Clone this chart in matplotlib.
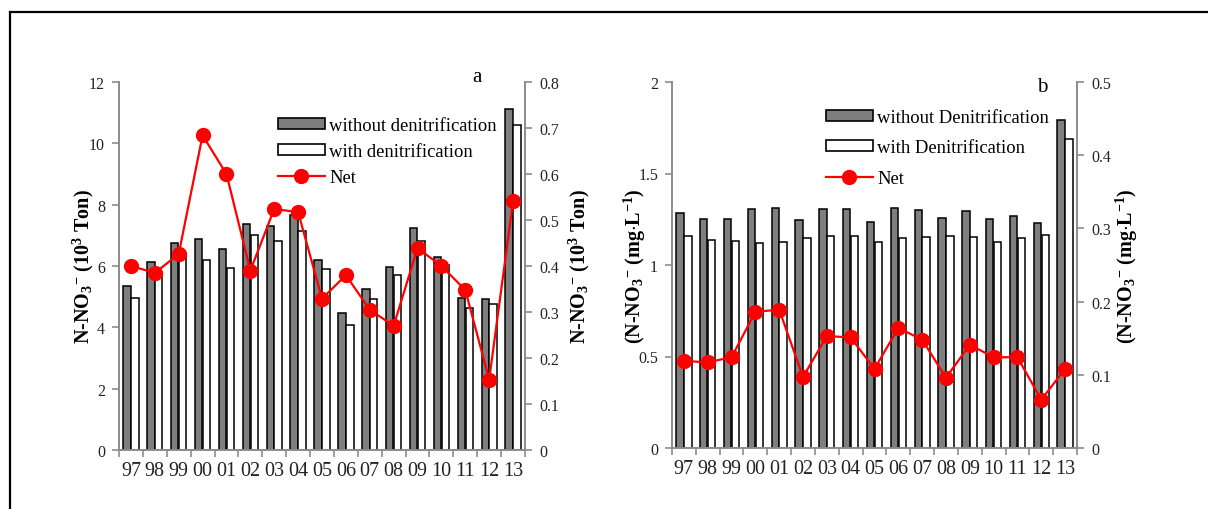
import matplotlib
matplotlib.use('Agg')
import matplotlib.pyplot as plt
from matplotlib.lines import Line2D
from matplotlib.patches import Patch
import numpy as np

plt.rcParams['font.family'] = ['Liberation Serif', 'DejaVu Serif']
plt.rcParams['mathtext.fontset'] = 'custom'
plt.rcParams['mathtext.rm'] = 'Liberation Serif'
plt.rcParams['mathtext.bf'] = 'Liberation Serif:bold'
plt.rcParams['mathtext.it'] = 'Liberation Serif:italic'

years = ['97', '98', '99', '00', '01', '02', '03', '04', '05',
         '06', '07', '08', '09', '10', '11', '12', '13']

# panel a: loads (10^3 Ton)
a_without = [5.36, 6.12, 6.76, 6.89, 6.56, 7.38, 7.32, 7.65, 6.21,
             4.48, 5.25, 5.97, 7.23, 6.29, 4.97, 4.93, 11.13]
a_with = [4.97, 5.75, 6.31, 6.20, 5.95, 7.00, 6.80, 7.13, 5.90,
          4.09, 4.94, 5.71, 6.80, 6.02, 4.62, 4.77, 10.59]
a_net = [0.400, 0.385, 0.426, 0.684, 0.600, 0.390, 0.524, 0.517, 0.329,
         0.380, 0.305, 0.270, 0.439, 0.400, 0.348, 0.153, 0.541]

# panel b: concentrations (mg/L)
b_without = [1.282, 1.253, 1.253, 1.304, 1.314, 1.247, 1.307, 1.307, 1.233,
             1.313, 1.302, 1.255, 1.295, 1.251, 1.269, 1.229, 1.794]
b_with = [1.161, 1.134, 1.129, 1.119, 1.127, 1.149, 1.156, 1.156, 1.127,
          1.149, 1.154, 1.158, 1.154, 1.127, 1.145, 1.163, 1.689]
b_net = [0.119, 0.117, 0.124, 0.186, 0.189, 0.097, 0.153, 0.151, 0.108,
         0.164, 0.148, 0.096, 0.141, 0.124, 0.124, 0.066, 0.108]

GRAY = '#7f7f7f'
AX_COL = '#8c8c8c'
TXT = '#222222'

fig = plt.figure(figsize=(12.08, 5.10), dpi=100)

# outer frame (top and left only)
fig.add_artist(Line2D([10 / 1208, 1.0], [1 - 13 / 510, 1 - 13 / 510],
                      color='black', lw=1.6, transform=fig.transFigure))
fig.add_artist(Line2D([10 / 1208, 10 / 1208], [0, 1 - 13 / 510],
                      color='black', lw=1.6, transform=fig.transFigure))


def panel(rect, without, with_, net, ylim, yticks, ylim2, yticks2,
          ylabel, ylabel2, names, letter, letter_xy, leg_anchor, leg_space,
          lpad, rpad):
    ax = fig.add_axes(rect)
    x = np.arange(len(years))
    w = 0.31
    ax.bar(x - w / 2 - 0.01, without, width=w, color=GRAY, edgecolor='black',
           linewidth=1.1, zorder=2)
    ax.bar(x + w / 2 + 0.01, with_, width=w, color='white', edgecolor='black',
           linewidth=1.1, zorder=2)
    ax.set_xlim(-0.5, len(years) - 0.5)
    ax.set_ylim(*ylim)
    ax.set_yticks(yticks)
    ax.set_yticklabels([('%g' % t) for t in yticks])
    ax.set_xticks(x)
    ax.set_xticklabels(years, fontsize=14.5, color=TXT)
    ax.set_xticks(np.arange(-0.5, len(years) - 0.4, 1), minor=True)
    ax.tick_params(axis='x', which='major', length=0, pad=8)
    ax.tick_params(axis='x', which='minor', length=5, width=1.2,
                   color=AX_COL, direction='out')
    ax.tick_params(axis='y', length=5, width=1.2, color=AX_COL,
                   labelsize=11.5, labelcolor=TXT, pad=5)
    for s in ['top', 'right']:
        ax.spines[s].set_visible(False)
    for s in ['left', 'bottom']:
        ax.spines[s].set_color(AX_COL)
        ax.spines[s].set_linewidth(1.4)
    ax.set_ylabel(ylabel, fontsize=14.5, fontweight='bold', labelpad=lpad)

    ax2 = ax.twinx()
    ax2.plot(x, net, color='#ff0000', lw=1.6, marker='o', markersize=10,
             zorder=3)
    ax2.set_ylim(*ylim2)
    ax2.set_yticks(yticks2)
    ax2.set_yticklabels([('%g' % t) for t in yticks2])
    ax2.tick_params(axis='y', length=5, width=1.2, color=AX_COL,
                    labelsize=11.5, labelcolor=TXT, pad=5)
    for s in ['top', 'left', 'bottom']:
        ax2.spines[s].set_visible(False)
    ax2.spines['right'].set_color(AX_COL)
    ax2.spines['right'].set_linewidth(1.4)
    ax2.set_ylabel(ylabel2, fontsize=14.5, fontweight='bold', labelpad=rpad)

    handles = [Patch(facecolor=GRAY, edgecolor='black', linewidth=1.2),
               Patch(facecolor='white', edgecolor='black', linewidth=1.2),
               Line2D([], [], color='#ff0000', lw=1.6, marker='o',
                      markersize=10)]
    ax2.legend(handles, names, loc='upper left', bbox_to_anchor=leg_anchor,
               bbox_transform=fig.transFigure, frameon=False, fontsize=13.4,
               handlelength=2.5, handleheight=0.55, handletextpad=0.25,
               labelspacing=leg_space, borderaxespad=0, borderpad=0)
    fig.text(letter_xy[0], letter_xy[1], letter, fontsize=15,
             ha='center', va='center')
    return ax, ax2


ylab_a = r'N-NO$_\mathbf{3}$$^\mathbf{-}$ (10$^\mathbf{3}$ Ton)'
ylab_b = r'(N-NO$_\mathbf{3}$$^\mathbf{-}$ (mg$\cdot$L$^\mathbf{-1}$)'

panel([119 / 1208, 1 - 451 / 510, 406 / 1208, 368 / 510],
      a_without, a_with, a_net,
      (0, 12), np.arange(0, 12.1, 2), (0, 0.8), np.round(np.arange(0, 0.81, 0.1), 1),
      ylab_a, ylab_a,
      ['without denitrification', 'with denitrification', 'Net'],
      'a', (477 / 1208, 1 - 77 / 510), (278 / 1208, 1 - 118 / 510), 0.48,
      -5, 6)

panel([672 / 1208, 1 - 449 / 510, 405 / 1208, 366 / 510],
      b_without, b_with, b_net,
      (0, 2), [0, 0.5, 1, 1.5, 2], (0, 0.5), np.round(np.arange(0, 0.51, 0.1), 1),
      ylab_b, ylab_b,
      ['without Denitrification', 'with Denitrification', 'Net'],
      'b', (1042 / 1208, 1 - 87 / 510), (826 / 1208, 1 - 110 / 510), 0.72,
      -7, 2)

fig.savefig('out.png', dpi=100)
